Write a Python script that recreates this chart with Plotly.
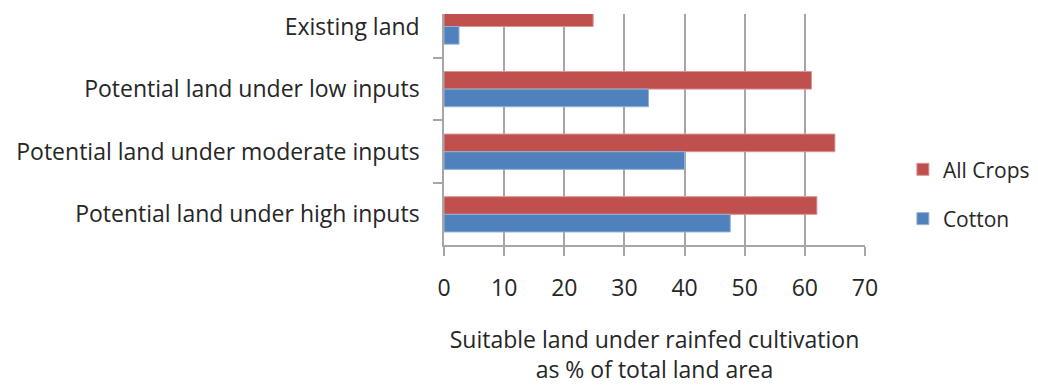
import plotly.graph_objects as go

# Land categories, listed top to bottom
categories = [
    "Existing land",
    "Potential land under low inputs",
    "Potential land under moderate inputs",
    "Potential land under high inputs",
]
all_crops = [24.8, 61.1, 65.0, 62.0]
cotton = [2.5, 34.0, 40.0, 47.6]
x_ticks = [0, 10, 20, 30, 40, 50, 60, 70]

FONT = "Open Sans"
GRID = "#A6A6A6"
SIZE = 23

fig = go.Figure()
fig.add_trace(go.Bar(
    y=categories, x=all_crops, orientation="h", name="All Crops",
    legendgroup="a",
    marker=dict(color="#C0504D", line=dict(color="#D99694", width=1)),
))
fig.add_trace(go.Bar(
    y=categories, x=cotton, orientation="h", name="Cotton",
    legendgroup="b",
    marker=dict(color="#4F81BD", line=dict(color="#95B3D7", width=1)),
))

fig.update_layout(
    width=1038, height=385,
    margin=dict(l=444, r=173, t=14, b=140, autoexpand=False),
    paper_bgcolor="white", plot_bgcolor="white",
    barmode="group", bargap=0.436, bargroupgap=0,
    font=dict(family=FONT, size=SIZE, color="#262626"),
    legend=dict(
        x=1.09, y=0.22, xanchor="left", yanchor="middle",
        font=dict(size=21), itemwidth=30, tracegroupgap=19,
        bgcolor="rgba(0,0,0,0)",
    ),
    showlegend=True,
)

fig.update_xaxes(
    range=[0, 70], tickvals=x_ticks, ticktext=[str(v) for v in x_ticks],
    showgrid=True, gridcolor=GRID, gridwidth=1.5,
    showline=True, linecolor=GRID, linewidth=1.5,
    ticks="outside", ticklen=9, tickcolor=GRID, tickwidth=1.5,
    ticklabelstandoff=13,
    zeroline=False,
    title=dict(
        text="Suitable land under rainfed cultivation<br>as % of total land area",
        font=dict(size=SIZE), standoff=31,
    ),
)
fig.update_yaxes(
    type="category", categoryorder="array", categoryarray=categories,
    range=[3.49, -0.2],
    showgrid=False,
    showline=True, linecolor=GRID, linewidth=1.5,
    ticks="outside", ticklen=9, tickcolor=GRID, tickwidth=1.5,
    tickson="boundaries", ticklabelstandoff=18,
)

fig.write_html("out.html")
